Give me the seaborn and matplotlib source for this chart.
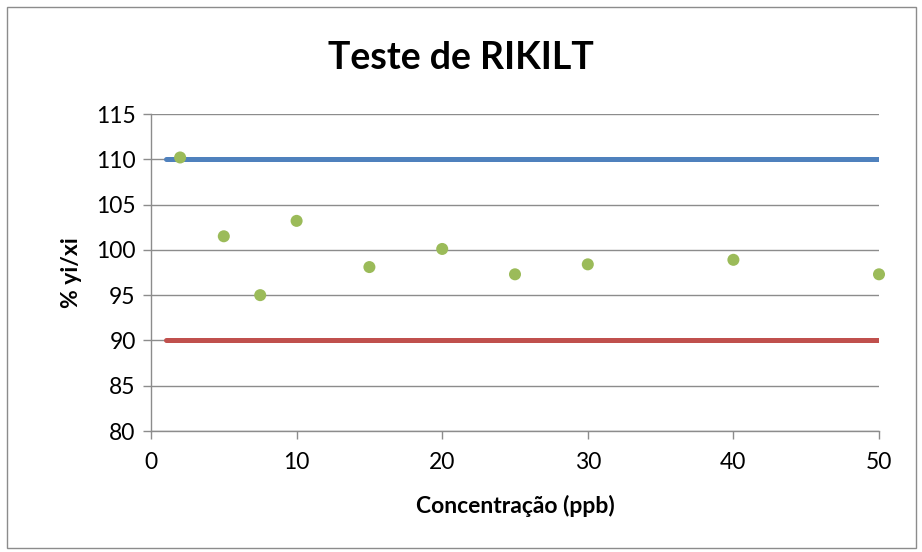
import matplotlib
matplotlib.use("Agg")
import matplotlib.pyplot as plt
import seaborn as sns
import pandas as pd
from matplotlib.patches import Rectangle

# Recovery data (% yi/xi) per concentration level
concentracao = [2, 5, 7.5, 10, 15, 20, 25, 30, 40, 50]
recuperacao = [110.2, 101.5, 95.0, 103.2, 98.1, 100.1, 97.3, 98.4, 98.9, 97.3]

# Acceptance limits
limite_x = [1, 50]
limite_sup = [110, 110]
limite_inf = [90, 90]

x_ticks = [0, 10, 20, 30, 40, 50]
y_ticks = [80, 85, 90, 95, 100, 105, 110, 115]

sns.set_theme(style="white")
plt.rcParams["font.family"] = ["Lato", "DejaVu Sans"]
plt.rcParams["text.color"] = "black"
plt.rcParams["axes.labelcolor"] = "black"

fig = plt.figure(figsize=(9.22, 5.52), dpi=100)
ax = fig.add_axes([151 / 922, 1 - 431 / 552, (879 - 151) / 922, (431 - 114) / 552])

pontos = pd.DataFrame({"x": concentracao, "y": recuperacao})
sup = pd.DataFrame({"x": limite_x, "y": limite_sup})
inf = pd.DataFrame({"x": limite_x, "y": limite_inf})

sns.lineplot(data=sup, x="x", y="y", ax=ax, color="#4F81BD", linewidth=3.6,
             solid_capstyle="round", zorder=3)
sns.lineplot(data=inf, x="x", y="y", ax=ax, color="#C0504D", linewidth=3.6,
             solid_capstyle="round", zorder=3)
sns.scatterplot(data=pontos, x="x", y="y", ax=ax, color="#9BBB59", s=75,
                edgecolor="none", zorder=4, clip_on=False)

ax.set_xlim(0, 50)
ax.set_ylim(80, 115)
ax.set_xticks(x_ticks)
ax.set_yticks(y_ticks)
ax.yaxis.grid(True, color="#8C8C8C", linewidth=1.0)
ax.xaxis.grid(False)
ax.set_axisbelow(True)

for side in ["top", "right"]:
    ax.spines[side].set_visible(False)
for side in ["left", "bottom"]:
    ax.spines[side].set_color("#8C8C8C")
    ax.spines[side].set_linewidth(1.0)

ax.tick_params(axis="both", which="major", direction="out", length=6, width=1.0,
               color="#8C8C8C", labelsize=16.5, labelcolor="black", pad=5,
               left=True, bottom=True)
ax.tick_params(axis="x", pad=9)

ax.set_xlabel("Concentração (ppb)", fontsize=16.5, fontweight="bold", labelpad=16,
              color="black")
ax.set_ylabel("% yi/xi", fontsize=16.5, fontweight="bold", labelpad=10,
              color="black")

fig.text(0.5, 1 - 58 / 552, "Teste de RIKILT", color="black",
         ha="center", va="center", fontsize=27, fontweight="bold")

fig.patches.append(Rectangle((7 / 922, 4 / 552), (916 - 7) / 922, (545 - 4) / 552,
                             transform=fig.transFigure, fill=False,
                             edgecolor="#8C8C8C", linewidth=1.0))

fig.savefig("out.png", dpi=100)
